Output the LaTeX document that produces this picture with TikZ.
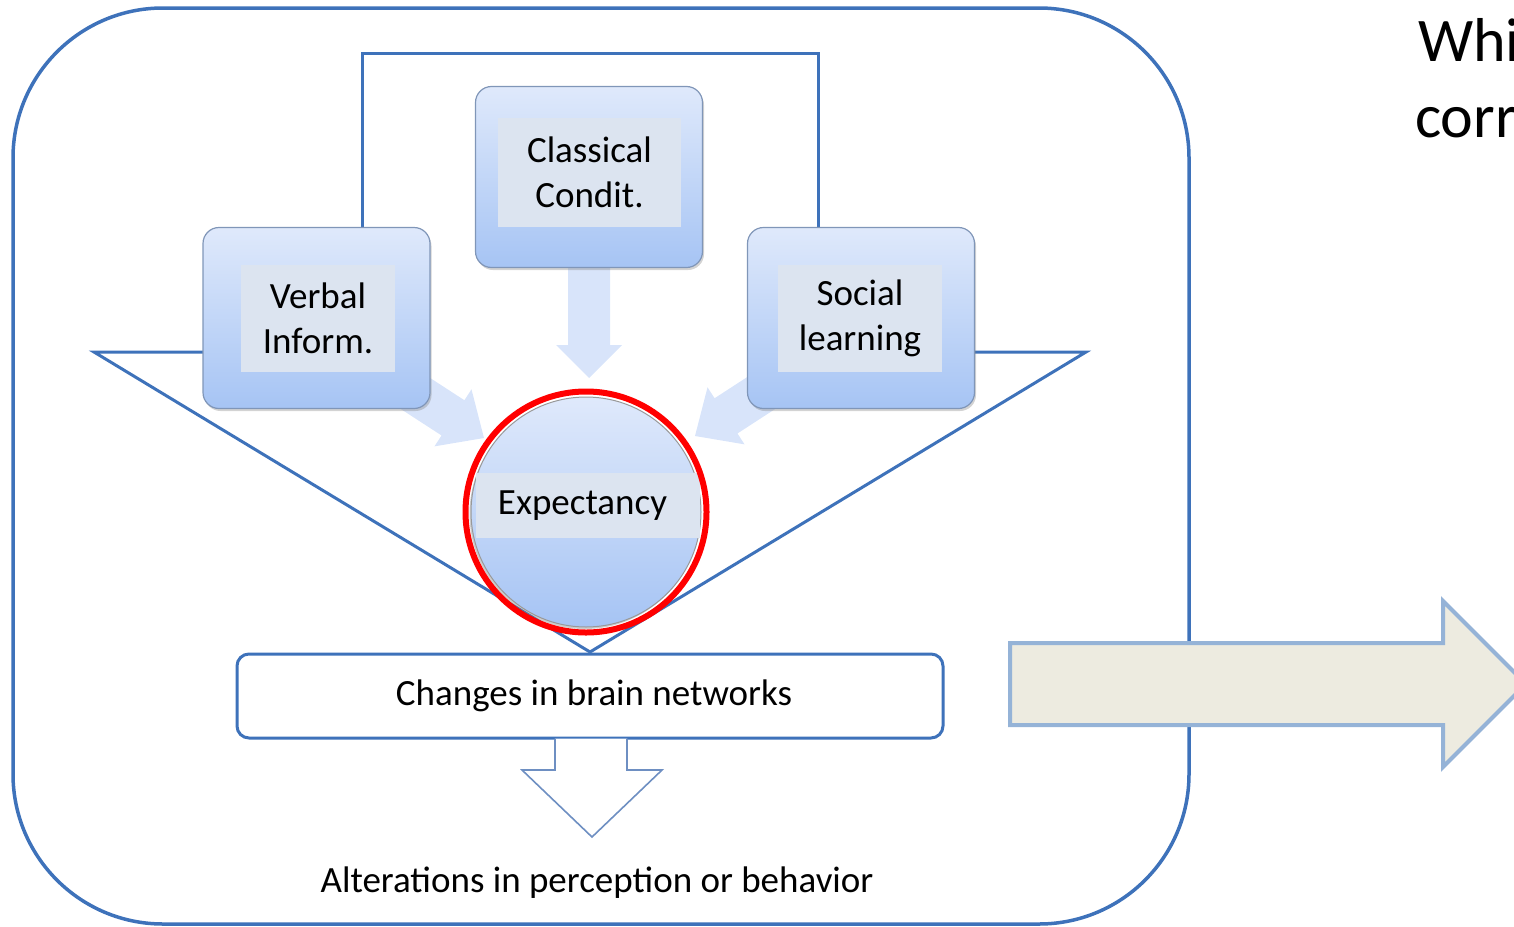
\documentclass[tikz,border=0pt]{standalone}
\usepackage{fontspec}
\setmainfont{Carlito}
\usetikzlibrary{shadows,calc}
\definecolor{frame}{RGB}{62,114,186}
\definecolor{boxtop}{RGB}{223,233,251}
\definecolor{boxbot}{RGB}{166,196,244}
\definecolor{boxedge}{RGB}{128,150,184}
\definecolor{bandc}{RGB}{220,228,240}
\definecolor{arrowfill}{RGB}{216,228,250}
\definecolor{bigfill}{RGB}{237,235,224}
\definecolor{bigedge}{RGB}{149,179,215}
\definecolor{outlinec}{RGB}{110,143,194}
\begin{document}
\begin{tikzpicture}[x=1pt,y=-1pt,
  frameline/.style={draw=frame,line width=3.5pt},
  lbox/.style={draw=boxedge,line width=1.2pt,rounded corners=16pt,top color=boxtop,bottom color=boxbot,
    drop shadow={opacity=0.35,shadow xshift=1.5pt,shadow yshift=-2.5pt},minimum width=227pt,minimum height=181pt,inner sep=0pt},
  bandbox/.style={fill=bandc,inner sep=0pt,align=center,font=\fontsize{37}{45}\selectfont},
  flow/.style={fill=arrowfill,draw=none},
  txt/.style={inner sep=0pt,font=\fontsize{37}{44}\selectfont}]
\useasboundingbox (0,0) rectangle (1514,926);
\clip (0,0) rectangle (1514,926);
% outer frame
\draw[frameline,rounded corners=150pt] (13,8) rectangle (1189,924);
% bracket line
\coordinate (bl) at (362,228);
\coordinate (br) at (818,228);
\draw[frameline,line width=3pt] (bl) -- (362,53) -- (818,53) -- (br);
% funnel
\coordinate (fl) at (94,352);
\coordinate (fr) at (1086,352);
\coordinate (fb) at (590,652);
\draw[frameline,line width=3pt] (205,352) -- (fl) -- (fb) -- (fr) -- (972,352);
% flow arrows
\begin{scope}[shift={(484,438)},rotate=-33]
  \fill[flow] (0,0) -- (-37,34) -- (-37,21) -- (-110,21) -- (-110,-21) -- (-37,-21) -- (-37,-34) -- cycle;
\end{scope}
\begin{scope}[shift={(695,436)},rotate=213]
  \fill[flow] (0,0) -- (-37,34) -- (-37,21) -- (-110,21) -- (-110,-21) -- (-37,-21) -- (-37,-34) -- cycle;
\end{scope}
\begin{scope}[shift={(589,378)},rotate=-90]
  \fill[flow] (0,0) -- (-33,33) -- (-33,21) -- (-115,21) -- (-115,-21) -- (-33,-21) -- (-33,-33) -- cycle;
\end{scope}
% boxes
\node[lbox] (verbal) at (316.5,318) {};
\node[bandbox,minimum width=154pt,minimum height=107pt] (verballbl) at (318,318.5) {Verbal\\Inform.};
\node[lbox] (classical) at (589,177) {};
\node[bandbox,minimum width=183pt,minimum height=109pt] (classicallbl) at (589.5,172.5) {Classical\\Condit.};
\node[lbox] (social) at (861,318) {};
\node[bandbox,minimum width=164pt,minimum height=107pt] (sociallbl) at (860,318.5) {Social\\learning};
% expectancy
\node[circle,draw=gray!80,line width=1pt,top color=boxtop,bottom color=boxbot,minimum size=230pt,
  drop shadow={opacity=0.4,shadow xshift=-1.5pt,shadow yshift=-2pt}] (expect) at (586,512) {};
\node[bandbox,minimum width=224pt,minimum height=65pt] (expectlbl) at (588,505.5) {\hspace*{-11pt}Expectancy};
\node[circle,draw=red,line width=6pt,minimum size=241pt] (ring) at (expect) {};
% changes box
\node[draw=frame,line width=3pt,rounded corners=12pt,fill=white,minimum width=706pt,minimum height=84pt,txt] (changes) at (590,696) {\hspace*{8pt}Changes in brain networks};
% outline arrow
\draw[outlinec,line width=1.6pt,fill=white,line join=miter] (555,738.5) -- (555,770) -- (522,770) -- (592,837) -- (662,770) -- (627,770) -- (627,738.5);
\node[txt] (alter) at (597,883) {Alterations in perception or behavior};
% big arrow
\draw[draw=bigedge,fill=bigfill,line width=4pt] (1010,643) -- (1443,643) -- (1443,601) -- (1526,684) -- (1443,767) -- (1443,725) -- (1010,725) -- cycle;
% question text
\node[anchor=base west,inner sep=0pt,font=\fontsize{62}{70}\selectfont] (q1) at (1418,61) {Whi};
\node[anchor=base west,inner sep=0pt,font=\fontsize{62}{70}\selectfont] (q2) at (1415,137) {corr};
\end{tikzpicture}
\end{document}
